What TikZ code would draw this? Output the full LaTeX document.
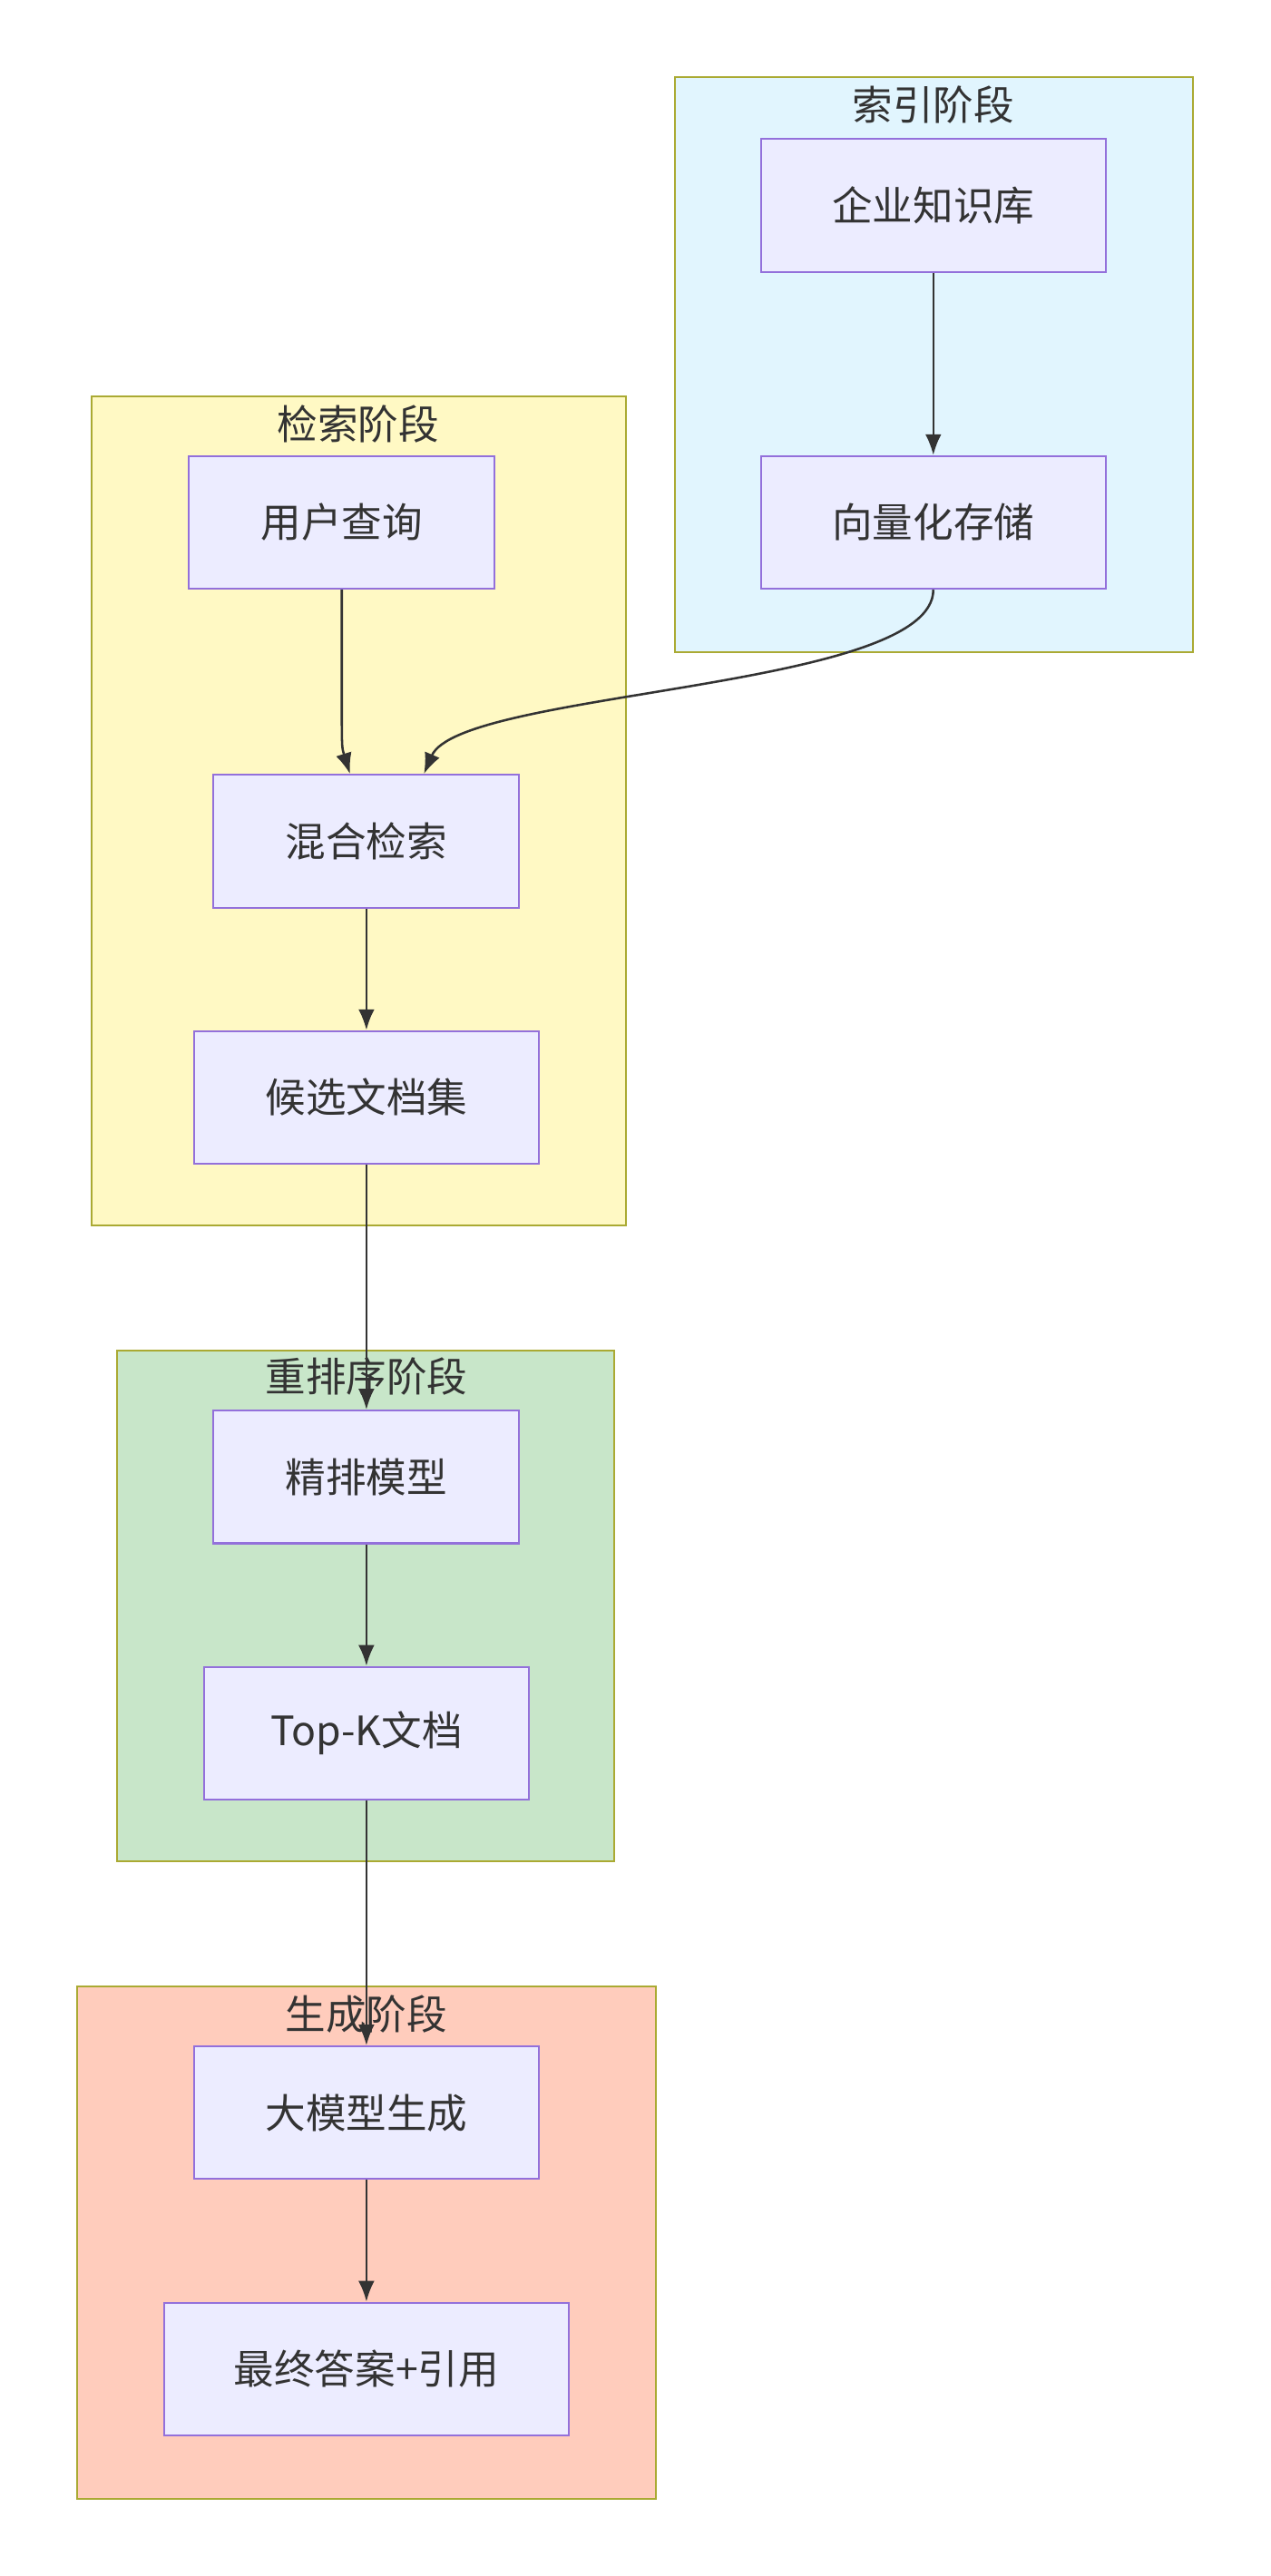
\documentclass[tikz,border=0pt]{standalone}
\usepackage{fontspec}
\setmainfont{Noto Sans CJK SC}
\usetikzlibrary{arrows.meta,positioning}
\definecolor{boxfill}{HTML}{ECECFF}
\definecolor{boxline}{HTML}{9370DB}
\definecolor{grpline}{HTML}{AAAA33}
\definecolor{edgecol}{HTML}{333333}
\definecolor{idxfill}{HTML}{E1F5FE}
\definecolor{retfill}{HTML}{FFF9C4}
\definecolor{rrkfill}{HTML}{C8E6C9}
\definecolor{genfill}{HTML}{FFCCBC}
\begin{document}
\begin{tikzpicture}[x=0.025cm,y=-0.025cm]
\tikzstyle{stepbox}=[rectangle,draw=boxline,fill=boxfill,line width=0.8pt,
minimum height=2.02cm,inner sep=0pt,font=\fontsize{17.5}{20}\selectfont,text=edgecol]
\tikzstyle{group}=[draw=grpline,line width=0.8pt]
\tikzstyle{grouptitle}=[font=\fontsize{17.5}{20}\selectfont,text=edgecol]
\tikzstyle{flow}=[draw=edgecol,line width=1pt,-{Latex[length=9pt,width=7pt]}]
\useasboundingbox (0,0) rectangle (773,1568);
\fill[white] (0,0) rectangle (773,1568);
% clusters
\draw[group,fill=idxfill] (411,47) rectangle (726,397);
\draw[group,fill=retfill] (56,241) rectangle (381,746);
\draw[group,fill=rrkfill] (71,822) rectangle (374,1133);
\draw[group,fill=genfill] (47,1209) rectangle (399,1521);
\node[grouptitle] at (568,64) (t1) {索引阶段};
\node[grouptitle] at (218,258) (t2) {检索阶段};
\node[grouptitle] at (223,838) (t3) {重排序阶段};
\node[grouptitle] at (223,1226) (t4) {生成阶段};
% nodes
\node[stepbox,minimum width=5.25cm] at (568,125) (kb) {企业知识库};
\node[stepbox,minimum width=5.25cm] at (568,318) (vec) {向量化存储};
\node[stepbox,minimum width=4.65cm] at (208,318) (query) {用户查询};
\node[stepbox,minimum width=4.65cm] at (223,512) (hybrid) {混合检索};
\node[stepbox,minimum width=5.25cm] at (223,668) (cand) {候选文档集};
\node[stepbox,minimum width=4.65cm] at (223,899) (rerank) {精排模型};
\node[stepbox,minimum width=4.95cm] at (223,1055) (topk) {Top-K文档};
\node[stepbox,minimum width=5.25cm] at (223,1286) (llm) {大模型生成};
\node[stepbox,minimum width=6.15cm] at (223,1442) (answer) {最终答案+引用};
% edges
\draw[flow] (kb) -- (vec);
\draw[flow] (query.south) -- (208,425) .. controls (208,455) .. ([xshift=-0.25cm]hybrid.north);
\draw[flow] (vec.south) .. controls (568,420) and (280,420) .. ([xshift=0.875cm]hybrid.north);
\draw[flow] (hybrid) -- (cand);
\draw[flow] (cand) -- (rerank);
\draw[flow] (rerank) -- (topk);
\draw[flow] (topk) -- (llm);
\draw[flow] (llm) -- (answer);
\end{tikzpicture}
\end{document}
